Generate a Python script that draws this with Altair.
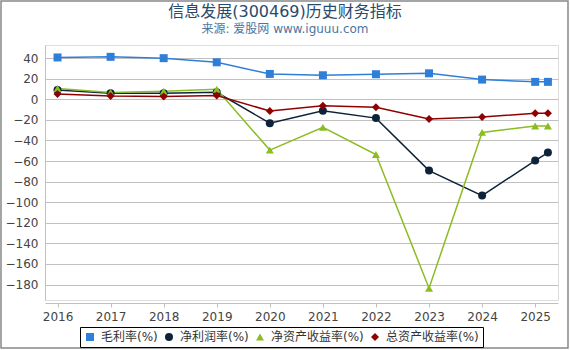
import altair as alt
import pandas as pd

title_text = "信息发展(300469)历史财务指标"
subtitle_text = "来源: 爱股网 www.iguuu.com"
years = [2016, 2017, 2018, 2019, 2020, 2021, 2022, 2023, 2024, 2025, 2025.24]
series_names = ["毛利率(%)", "净利润率(%)", "净资产收益率(%)", "总资产收益率(%)"]
gross = [40.6, 41.2, 39.9, 35.9, 24.6, 23.3, 24.3, 25.2, 19.1, 16.9, 16.9]
net = [9.0, 5.8, 5.8, 6.8, -23.3, -11.2, -18.3, -69.3, -93.6, -59.6, -51.8]
roe = [10.4, 6.5, 7.8, 9.7, -49.4, -27.3, -53.7, -183.5, -32.2, -26.0, -26.0]
roa = [5.1, 3.2, 2.6, 3.6, -11.4, -6.3, -7.8, -19.2, -17.2, -13.6, -13.6]
year_ticks = [2016, 2017, 2018, 2019, 2020, 2021, 2022, 2023, 2024, 2025]
y_ticks = [-180, -160, -140, -120, -100, -80, -60, -40, -20, 0, 20, 40]

colors = ["#2f7ed8", "#0d233a", "#8bbc21", "#910000"]
shapes = ["square", "circle", "triangle-up", "diamond"]

rows = []
for i, (name, vals) in enumerate(zip(series_names, [gross, net, roe, roa])):
    for y, v in zip(years, vals):
        rows.append({"year": y, "value": v, "series": name, "order": i})
df = pd.DataFrame(rows)

FONT = "DejaVu Sans, Noto Sans CJK SC, sans-serif"

x_enc = alt.X("year:Q",
              scale=alt.Scale(domain=[2015.764, 2025.43], nice=False, zero=False),
              axis=alt.Axis(values=year_ticks, format="d", title=None, grid=False,
                            domainColor="#c0c0c0", tickColor="#c0c0c0", tickSize=4,
                            labelFontSize=12, labelColor="#444", labelPadding=4,
                            labelFont=FONT, offset=3))
y_enc = alt.Y("value:Q",
              scale=alt.Scale(domain=[-195, 52.7], nice=False, zero=False),
              axis=alt.Axis(values=y_ticks, title=None, grid=True, gridColor="#c0c0c0",
                            domainColor="#c0c0c0", ticks=False, labelFontSize=12,
                            labelColor="#444", labelPadding=7, labelFont=FONT))
color_enc = alt.Color("series:N",
                      scale=alt.Scale(domain=series_names, range=colors),
                      legend=alt.Legend(title=None, orient="none", legendX=35, legendY=282,
                                        direction="horizontal", columns=4,
                                        strokeColor="black", fillColor="white",
                                        padding=4, symbolSize=64, labelOffset=5,
                                        columnPadding=5, labelFontSize=12,
                                        labelColor="#333", labelFont=FONT,
                                        symbolStrokeWidth=0))

base = alt.Chart(df)
lines = base.mark_line(strokeWidth=1.5).encode(
    x=x_enc, y=y_enc, color=color_enc, detail="series:N", order="year:Q")
points = base.mark_point(filled=True, size=64, opacity=1).encode(
    x=x_enc, y=y_enc, color=color_enc, shape=alt.Shape(
        "series:N", scale=alt.Scale(domain=series_names, range=shapes)))

one = pd.DataFrame({"b": [0]})
border = alt.Chart(one).mark_rect(
    fill=None, stroke="#888", strokeWidth=1.5).encode(
    x=alt.value(-44), x2=alt.value(523), y=alt.value(-44), y2=alt.value(303))
title = alt.Chart(one).mark_text(
    text=title_text, fontSize=16, font=FONT, color="#274b6d",
    align="center", baseline="alphabetic").encode(x=alt.value(240), y=alt.value(-28))
subtitle = alt.Chart(one).mark_text(
    text=subtitle_text, fontSize=12, font=FONT, color="#4d759e",
    align="center", baseline="alphabetic").encode(x=alt.value(240), y=alt.value(-12))

chart = alt.layer(lines, points, border, title, subtitle).properties(
    width=513, height=255,
    padding={"left": 45, "top": 45, "right": 12, "bottom": 50},
    autosize=alt.AutoSizeParams(type="none"),
).configure_view(stroke=None).configure(background="white")

chart.save("out.html", embed_options={"renderer": "svg", "actions": False})
